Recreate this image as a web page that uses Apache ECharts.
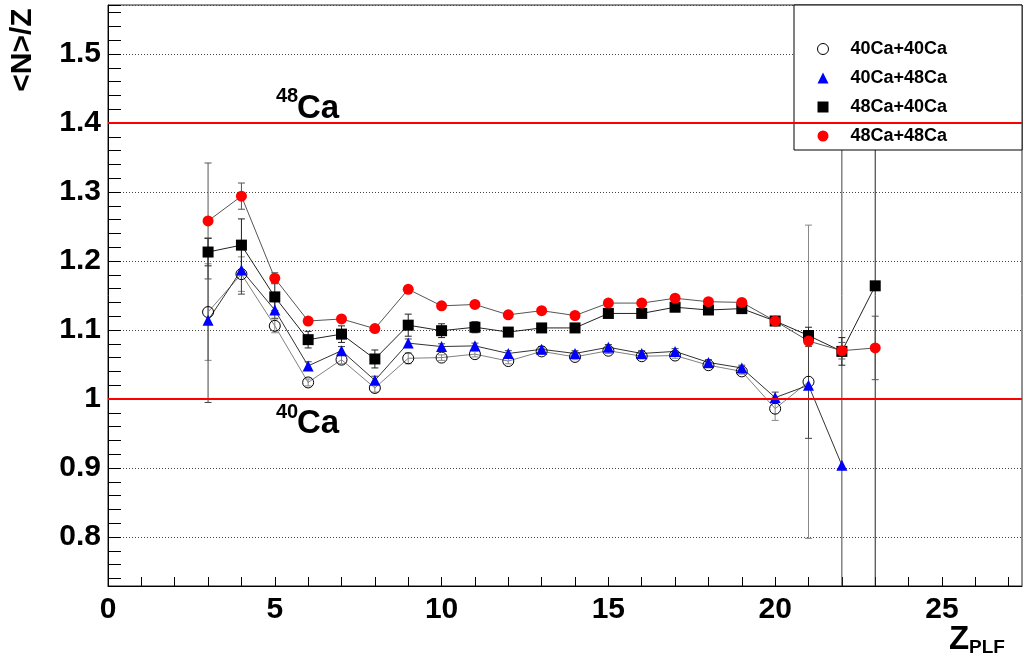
<!DOCTYPE html>
<html>
<head>
<meta charset="utf-8">
<script src="https://cdn.jsdelivr.net/npm/echarts@6/dist/echarts.min.js"></script>
<style>
  html, body { margin: 0; padding: 0; background: #fff; }
  #chart { width: 1030px; height: 659px; }
</style>
</head>
<body>
<div id="chart"></div>
<script>
// ---- data ----
const seriesNames = ['40Ca+40Ca', '40Ca+48Ca', '48Ca+40Ca', '48Ca+48Ca'];

const zCaCa4040 = [3,4,5,6,7,8,9,10,11,12,13,14,15,16,17,18,19,20,21];
const vCaCa4040 = [1.126,1.181,1.106,1.024,1.057,1.016,1.059,1.060,1.065,1.055,1.069,1.061,1.070,1.062,1.063,1.049,1.040,0.986,1.025];
const eCaCa4040 = [0.070,0.025,0.010,0.005,0.006,0.006,0.008,0.004,0.004,0.004,0.004,0.004,0.004,0.004,0.004,0.004,0.004,0.017,0.227];

const zCaCa4048 = [3,4,5,6,7,8,9,10,11,12,13,14,15,16,17,18,19,20,21,22];
const vCaCa4048 = [1.114,1.187,1.129,1.048,1.070,1.027,1.081,1.076,1.077,1.066,1.072,1.066,1.075,1.066,1.069,1.053,1.045,1.002,1.020,0.904];
const eCaCa4048 = [0.119,0.035,0.012,0.006,0.006,0.006,0.006,0.004,0.004,0.004,0.004,0.004,0.004,0.004,0.004,0.004,0.004,0.008,0.077,1.000];

const zCaCa4840 = [3,4,5,6,7,8,9,10,11,12,13,14,15,16,17,18,19,20,21,22,23];
const vCaCa4840 = [1.213,1.223,1.148,1.086,1.094,1.058,1.107,1.099,1.104,1.097,1.103,1.103,1.124,1.124,1.133,1.129,1.131,1.113,1.092,1.069,1.164];
const eCaCa4840 = [0.020,0.038,0.020,0.012,0.012,0.013,0.016,0.010,0.008,0.004,0.004,0.004,0.004,0.004,0.004,0.004,0.004,0.005,0.012,0.020,1.000];

const zCaCa4848 = [3,4,5,6,7,8,9,10,11,12,13,14,15,16,17,18,19,20,21,22,23];
const vCaCa4848 = [1.258,1.294,1.175,1.113,1.116,1.102,1.159,1.135,1.137,1.122,1.128,1.121,1.139,1.139,1.146,1.141,1.140,1.113,1.084,1.070,1.074];
const eCaCa4848 = [0.084,0.019,0.008,0.004,0.004,0.004,0.005,0.004,0.004,0.004,0.004,0.004,0.004,0.004,0.004,0.004,0.004,0.004,0.008,0.012,0.046];

const refLines = [1.4, 1.0];
const xTickLabels = [0, 5, 10, 15, 20, 25];

// ---- build ----
const FONT = 'Liberation Sans';
function pts(z, v) { return z.map((x, i) => [x, v[i]]); }
function errPts(z, v, e) { return z.map((x, i) => [x, v[i], e[i]]); }

function errSeries(z, v, e, color) {
  return {
    type: 'custom',
    z: 1,
    clip: true,
    silent: true,
    encode: { x: 0, y: 1 },
    data: errPts(z, v, e),
    renderItem: function (params, api) {
      const x = api.value(0), y = api.value(1), er = api.value(2);
      const t = api.coord([x, y + er]);
      const b = api.coord([x, y - er]);
      const hw = 3.5;
      const st = { stroke: color, lineWidth: 1 };
      return {
        type: 'group',
        children: [
          { type: 'line', shape: { x1: t[0], y1: t[1], x2: b[0], y2: b[1] }, style: st },
          { type: 'line', shape: { x1: t[0] - hw, y1: t[1], x2: t[0] + hw, y2: t[1] }, style: st },
          { type: 'line', shape: { x1: b[0] - hw, y1: b[1], x2: b[0] + hw, y2: b[1] }, style: st }
        ]
      };
    }
  };
}

function lineSeries(name, z, v, symbol, itemStyle, lineColor, extra) {
  return Object.assign({
    name: name,
    type: 'line',
    z: 3,
    data: pts(z, v),
    symbol: symbol,
    symbolSize: 11,
    showSymbol: true,
    itemStyle: itemStyle,
    lineStyle: { color: lineColor, width: 1 },
    emphasis: { disabled: true }
  }, extra || {});
}

const chart = echarts.init(document.getElementById('chart'), null, { renderer: 'canvas' });

const option = {
  animation: false,
  backgroundColor: '#fff',
  grid: {
    left: 108, right: 8, top: 5, bottom: 73,
    show: true, borderColor: '#222', borderWidth: 1, backgroundColor: 'transparent'
  },
  xAxis: {
    type: 'value',
    min: 0, max: 27.4, interval: 1,
    axisLine: { show: true, onZero: false, lineStyle: { color: '#000', width: 1 } },
    axisTick: { show: true, inside: true, length: 9, lineStyle: { color: '#000' } },
    axisLabel: {
      margin: 9,
      color: '#000', fontFamily: FONT, fontWeight: 'bold', fontSize: 30,
      showMaxLabel: false,
      formatter: function (val) { return xTickLabels.indexOf(val) >= 0 ? String(val) : ''; }
    },
    splitLine: { show: false }
  },
  yAxis: {
    type: 'value',
    min: 0.729, max: 1.571, splitNumber: 8,
    axisLine: { show: true, onZero: false, lineStyle: { color: '#000', width: 1 } },
    axisTick: { show: true, inside: true, length: 13, lineStyle: { color: '#000' } },
    minorTick: { show: true, splitNumber: 5, length: 13, lineStyle: { color: '#000' } },
    axisLabel: {
      margin: 7,
      color: '#000', fontFamily: FONT, fontWeight: 'bold', fontSize: 30,
      showMinLabel: false, showMaxLabel: false
    },
    splitLine: { show: true, lineStyle: { color: '#444', width: 1, type: [1, 2] } }
  },
  legend: {
    orient: 'vertical',
    left: 794, top: 5,
    padding: [35, 75, 5, 23],
    itemGap: 11,
    itemWidth: 11, itemHeight: 11,
    backgroundColor: '#fff',
    borderColor: '#000', borderWidth: 1,
    textStyle: { fontFamily: FONT, fontWeight: 'bold', fontSize: 18, color: '#000', lineHeight: 18, padding: [0, 0, 0, 17] },
    data: [
      { name: seriesNames[0], icon: 'circle', itemStyle: { color: 'rgba(255,255,255,0)', borderColor: '#000', borderWidth: 1 } },
      { name: seriesNames[1], icon: 'triangle', itemStyle: { color: '#0000ff', borderWidth: 0 } },
      { name: seriesNames[2], icon: 'rect', itemStyle: { color: '#000', borderWidth: 0 } },
      { name: seriesNames[3], icon: 'circle', itemStyle: { color: '#ff0000', borderWidth: 0 } }
    ]
  },
  graphic: [
    { type: 'text', x: 23, y: 50, rotation: Math.PI / 2,
      style: { text: '<N>/Z', fontFamily: FONT, fontWeight: 'bold', fontSize: 30, fill: '#000', align: 'center', verticalAlign: 'middle' } },
    { type: 'text', x: 949, y: 640,
      style: { text: 'Z', fontFamily: FONT, fontWeight: 'bold', fontSize: 33, fill: '#000', align: 'left', verticalAlign: 'middle' } },
    { type: 'text', x: 969, y: 648,
      style: { text: 'PLF', fontFamily: FONT, fontWeight: 'bold', fontSize: 19, fill: '#000', align: 'left', verticalAlign: 'middle' } },
    { type: 'text', x: 276, y: 96,
      style: { text: '48', fontFamily: FONT, fontWeight: 'bold', fontSize: 20, fill: '#000', align: 'left', verticalAlign: 'middle' } },
    { type: 'text', x: 297, y: 109,
      style: { text: 'Ca', fontFamily: FONT, fontWeight: 'bold', fontSize: 33, fill: '#000', align: 'left', verticalAlign: 'middle' } },
    { type: 'text', x: 276, y: 412,
      style: { text: '40', fontFamily: FONT, fontWeight: 'bold', fontSize: 20, fill: '#000', align: 'left', verticalAlign: 'middle' } },
    { type: 'text', x: 297, y: 424,
      style: { text: 'Ca', fontFamily: FONT, fontWeight: 'bold', fontSize: 33, fill: '#000', align: 'left', verticalAlign: 'middle' } }
  ],
  series: [
    errSeries(zCaCa4040, vCaCa4040, eCaCa4040, '#888'),
    errSeries(zCaCa4048, vCaCa4048, eCaCa4048, '#444'),
    errSeries(zCaCa4840, vCaCa4840, eCaCa4840, '#222'),
    errSeries(zCaCa4848, vCaCa4848, eCaCa4848, '#555'),
    lineSeries(seriesNames[0], zCaCa4040, vCaCa4040, 'circle',
      { color: 'rgba(255,255,255,0)', borderColor: '#000', borderWidth: 1 }, '#808080', {
        markLine: {
          silent: true, symbol: 'none', animation: false,
          label: { show: false },
          lineStyle: { color: '#ff0000', width: 2, type: 'solid' },
          data: refLines.map(v => ({ yAxis: v }))
        }
      }),
    lineSeries(seriesNames[1], zCaCa4048, vCaCa4048, 'triangle', { color: '#0000ff', borderWidth: 0 }, '#333'),
    lineSeries(seriesNames[2], zCaCa4840, vCaCa4840, 'rect', { color: '#000', borderWidth: 0 }, '#222'),
    lineSeries(seriesNames[3], zCaCa4848, vCaCa4848, 'circle', { color: '#ff0000', borderWidth: 0 }, '#555')
  ]
};

chart.setOption(option);
</script>
</body>
</html>
